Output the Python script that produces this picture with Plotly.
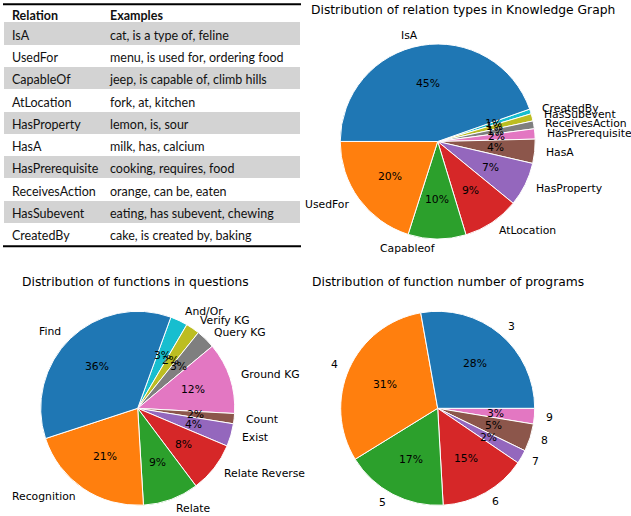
import math
import plotly.graph_objects as go

# ---------------- data ----------------
table_relations = ["IsA", "UsedFor", "CapableOf", "AtLocation", "HasProperty", "HasA",
                   "HasPrerequisite", "ReceivesAction", "HasSubevent", "CreatedBy"]
table_examples = ["cat, is a type of, feline", "menu, is used for, ordering food",
                  "jeep, is capable of, climb hills", "fork, at, kitchen", "lemon, is, sour",
                  "milk, has, calcium", "cooking, requires, food", "orange, can be, eaten",
                  "eating, has subevent, chewing", "cake, is created by, baking"]
table_header = ["Relation", "Examples"]

kg_labels = ["IsA", "UsedFor", "Capableof", "AtLocation", "HasProperty", "HasA",
             "HasPrerequisite", "ReceivesAction", "HasSubevent", "CreatedBy"]
kg_values = [44.6, 20.1, 9.6, 9.4, 7.3, 4.0, 1.7, 1.3, 1.2, 0.8]

fn_labels = ["Find", "Recognition", "Relate", "Relate Reverse", "Exist", "Count",
             "Ground KG", "Query KG", "Verify KG", "And/Or"]
fn_values = [35.6, 20.9, 9.3, 8.4, 3.8, 1.7, 11.9, 3.2, 2.3, 2.9]

prog_labels = ["3", "4", "5", "6", "7", "8", "9"]
prog_values = [27.8, 31.0, 17.1, 14.6, 2.3, 4.6, 2.6]

titles = ["Distribution of relation types in Knowledge Graph",
          "Distribution of functions in questions",
          "Distribution of function number of programs"]

# ---------------- style ----------------
W, H = 631, 516
tab10 = ["#1f77b4", "#ff7f0e", "#2ca02c", "#d62728", "#9467bd",
         "#8c564b", "#e377c2", "#7f7f7f", "#bcbd22", "#17becf"]
PIE_FONT = "DejaVu Sans"
LBL_SIZE = 10.8

fig = go.Figure()


def add_pie(labels, values, start_deg, cx, cy, r):
    """matplotlib-style pie: counterclockwise from start_deg, labels at 1.1r, pct at 0.6r."""
    dom = dict(x=[(cx - r) / W, (cx + r) / W], y=[1 - (cy + r) / H, 1 - (cy - r) / H])
    fig.add_trace(go.Pie(
        labels=labels[::-1], values=values[::-1], sort=False, direction="clockwise",
        rotation=90 - start_deg, domain=dom,
        marker=dict(colors=tab10[:len(labels)][::-1], line=dict(color="white", width=1)),
        textinfo="none", showlegend=False, hoverinfo="label+percent"))
    total = float(sum(values))
    ang = start_deg
    for lab, v in zip(labels, values):
        span = 360.0 * v / total
        mid = math.radians(ang + span / 2)
        ang += span
        c, s = math.cos(mid), math.sin(mid)
        fig.add_annotation(text=lab, x=(cx + 1.1 * r * c) / W, y=1 - (cy - 1.1 * r * s) / H,
                           xref="paper", yref="paper", showarrow=False,
                           xanchor="left" if c > 0 else "right", yanchor="middle",
                           font=dict(family=PIE_FONT, size=LBL_SIZE, color="black"))
        fig.add_annotation(text="%1.0f%%" % (100.0 * v / total),
                           x=(cx + 0.6 * r * c) / W, y=1 - (cy - 0.6 * r * s) / H,
                           xref="paper", yref="paper", showarrow=False,
                           xanchor="center", yanchor="middle",
                           font=dict(family=PIE_FONT, size=LBL_SIZE, color="black"))


# table
TBL_TOP = 2.3
row_fill = ["#d3d3d3" if i % 2 == 0 else "white" for i in range(len(table_relations))]
fig.add_trace(go.Table(
    domain=dict(x=[4 / W, 300 / W], y=[0.3, 1 - TBL_TOP / H]),
    columnwidth=[98, 198],
    header=dict(values=table_header, height=20, line=dict(width=0), fill_color="white",
                align="left",
                font=dict(family="Lato", size=12.5, color="#111", weight="bold")),
    cells=dict(values=[table_relations, table_examples], fill_color=[row_fill, row_fill],
               line=dict(width=0), align="left", height=22.3,
               font=dict(family="Lato", size=12.5, color="#111")),
))

add_pie(kg_labels, kg_values, 19.4, 437.7, 141.5, 97.5)
add_pie(fn_labels, fn_values, 70.0, 137.7, 408.3, 97)
add_pie(prog_labels, prog_values, 0.0, 437.7, 408.3, 97)

# table rules
for y_px, w in [(4.3, 2), (246.3, 2)]:
    fig.add_shape(type="line", xref="paper", yref="paper", x0=3 / W, x1=301 / W,
                  y0=1 - y_px / H, y1=1 - y_px / H, line=dict(color="black", width=w))

for t, (cx, cy) in zip(titles, [(463.3, 9.5), (135.5, 281.5), (448.3, 281.5)]):
    fig.add_annotation(text=t, x=cx / W, y=1 - cy / H, xref="paper", yref="paper",
                       xanchor="center", yanchor="middle", showarrow=False,
                       font=dict(family=PIE_FONT, size=12.3, color="black"))

fig.update_layout(width=W, height=H, margin=dict(l=0, r=0, t=0, b=0),
                  paper_bgcolor="white", plot_bgcolor="white")

fig.write_html("out.html", config={"displayModeBar": False},
               post_script="document.body.style.margin='0';document.body.style.overflow='hidden';")
